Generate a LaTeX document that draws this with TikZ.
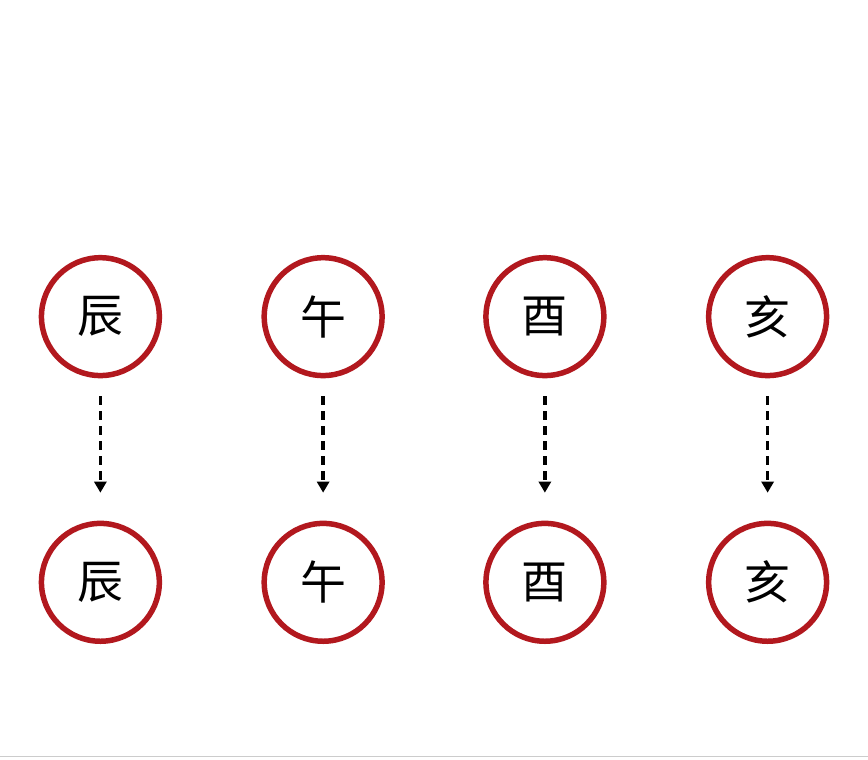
\documentclass[tikz,border=0pt]{standalone}
\usepackage{fontspec}
\usetikzlibrary{arrows.meta}
\newfontfamily\cjk{Noto Sans CJK SC}
\begin{document}
\begin{tikzpicture}[x=1pt,y=1pt]
\tikzset{
  zhi/.style={circle,draw={rgb,255:red,178;green,24;blue,30},line width=5.5pt,minimum size=118pt,inner sep=0pt,font=\cjk\fontsize{46}{46}\selectfont},
  arr/.style={-{Triangle[length=11pt,width=12pt]},line width=3.5pt,dash pattern=on 9pt off 6pt}}
\fill[white] (0,0) rectangle (868,760);
\draw[gray!40,line width=1pt] (0,3) -- (868,3);
\foreach \x/\c/\n in {100/辰/a,323/午/b,545/酉/c,768/亥/d}{
  \node[zhi] (\n1) at (\x,443) {\c};
  \node[zhi] (\n2) at (\x,177) {\c};
  \draw[arr] ([yshift=-18pt]\n1.south) -- ([yshift=28pt]\n2.north);
}
\end{tikzpicture}
\end{document}
